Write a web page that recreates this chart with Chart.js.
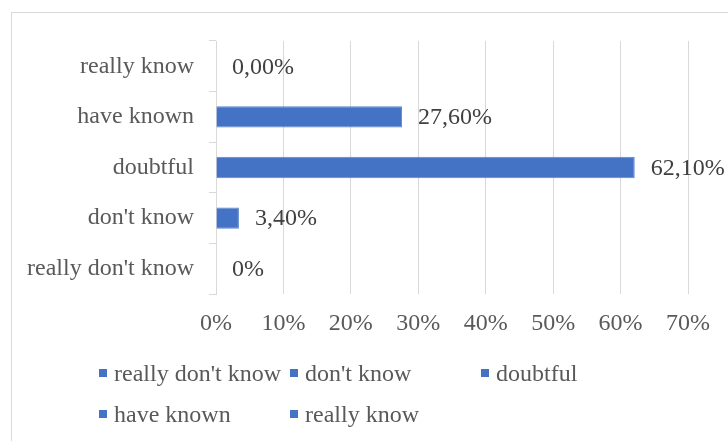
<!DOCTYPE html>
<html>
<head>
<meta charset="utf-8">
<script src="https://cdn.jsdelivr.net/npm/chart.js@4/dist/chart.umd.min.js"></script>
<style>
  html, body { margin: 0; padding: 0; background: #fff; }
  #wrap { position: relative; width: 728px; height: 441px; overflow: hidden; }
  #frame { position: absolute; left: 11px; top: 12px; width: 740px; height: 460px; border: 1px solid #d9d9d9; box-sizing: border-box; }
  canvas { position: absolute; left: 0; top: 0; }
  #legend { position: absolute; left: 99px; top: 358px; display: grid; grid-template-columns: 191px 191px 191px; row-gap: 11px;
            font-family: "Times New Roman", "Liberation Serif", Tinos, "DejaVu Serif", serif; font-size: 24px; color: #595959; }
  #legend div { display: flex; align-items: center; height: 30px; white-space: nowrap; }
  #legend span.box { width: 8px; height: 8px; background: #4472c4; margin-right: 7px; flex: none; }
</style>
</head>
<body>
<div id="wrap">
  <div id="frame"></div>
  <canvas id="myChart" width="728" height="441"></canvas>
  <div id="legend"></div>
</div>
<script>
var categories = ["really don't know", "don't know", 'doubtful', 'have known', 'really know'];
var values = [0, 3.4, 62.1, 27.6, 0];
var valueLabels = ['0%', '3,40%', '62,10%', '27,60%', '0,00%'];
var xTicks = [0, 10, 20, 30, 40, 50, 60, 70];

var blue = '#4472c4';
var grid = '#d9d9d9';
var family = '"Times New Roman", "Liberation Serif", Tinos, "DejaVu Serif", serif';
var font = { family: family, size: 24 };

// labels written just right of each bar end
var barLabels = {
  id: 'barLabels',
  afterDatasetsDraw: function (chart) {
    var ctx = chart.ctx;
    var meta = chart.getDatasetMeta(0);
    ctx.save();
    ctx.font = '24px ' + family;
    ctx.fillStyle = '#404040';
    ctx.textAlign = 'left';
    ctx.textBaseline = 'middle';
    meta.data.forEach(function (bar, i) {
      ctx.fillText(valueLabels[i], bar.x + 16, bar.y + 1);
    });
    ctx.restore();
  }
};

const ctx = document.getElementById('myChart');
const myChart = new Chart(ctx, {
  type: 'bar',
  data: {
    labels: categories,
    datasets: [{
      data: values,
      backgroundColor: blue,
      borderColor: '#5b84cc',
      borderWidth: 1,
      barPercentage: 0.42,
      categoryPercentage: 1
    }]
  },
  options: {
    indexAxis: 'y',
    responsive: false,
    animation: false,
    layout: { padding: { top: 41, right: 40, bottom: 97, left: 0 } },
    plugins: { legend: { display: false }, tooltip: { enabled: false } },
    scales: {
      x: {
        min: 0,
        max: 70,
        afterBuildTicks: function (scale) {
          scale.ticks = xTicks.map(function (v) { return { value: v }; });
        },
        afterFit: function (scale) { scale.height = 50; },
        grid: { color: grid, drawTicks: false },
        border: { display: false },
        ticks: { font: font, color: '#595959', padding: 15, callback: function (v) { return v + '%'; } }
      },
      y: {
        reverse: true,
        afterFit: function (scale) { scale.width = 216; },
        grid: { drawOnChartArea: false, color: grid, tickLength: 7 },
        border: { display: true, color: grid },
        ticks: { font: font, color: '#595959', padding: 15 }
      }
    }
  },
  plugins: [barLabels]
});

var legend = document.getElementById('legend');
categories.forEach(function (c) {
  var item = document.createElement('div');
  item.innerHTML = '<span class="box"></span>';
  item.appendChild(document.createTextNode(c));
  legend.appendChild(item);
});
</script>
</body>
</html>
